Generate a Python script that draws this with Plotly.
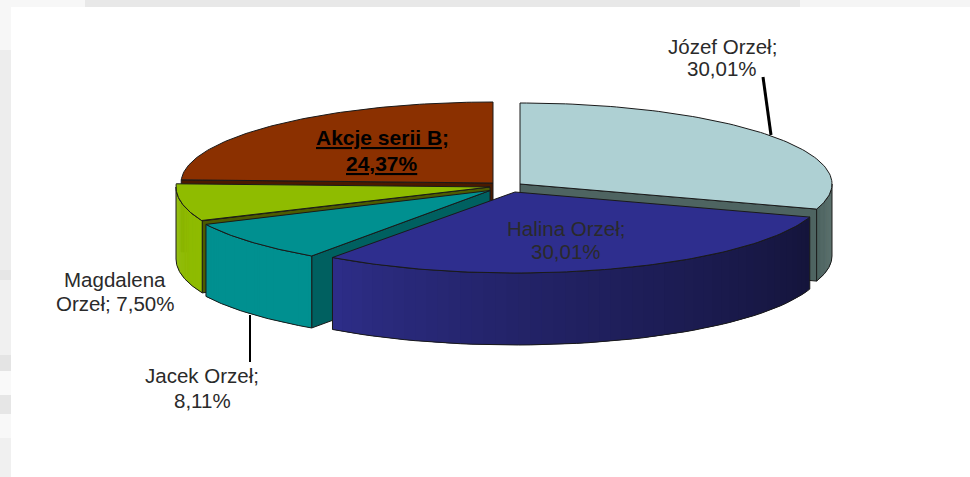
import math
import plotly.graph_objects as go

# ---- data ----
NAMES = ["Józef Orzeł", "Halina Orzeł", "Jacek Orzeł", "Magdalena Orzeł", "Akcje serii B"]
VALUES = [30.01, 30.01, 8.11, 7.50, 24.37]
TOP_COLORS = ["#aed0d3", "#2e2e8e", "#009090", "#8fbc00", "#8b3000"]
WALL_LEFT = ["#4e6461", "#2e2e8a", "#009090", "#8fbc00", "#8b3000"]
WALL_RIGHT = ["#4e6461", "#14143a", "#009090", "#8cb800", "#8b3000"]
CUT_COLORS = ["#4e6461", "#1a1a50", "#006060", "#4d5c00", "#4a1a00"]
LABEL_LINES = [
    ["Józef Orzeł;", "{v}"],
    ["Halina Orzeł;", "{v}"],
    ["Jacek Orzeł;", "{v}"],
    ["Magdalena", "Orzeł; {v}"],
    ["Akcje serii B;", "{v}"],
]

# ---- projected drawing geometry (ellipse centre x, y, radius x, apex x per slice) ----
CENTRES = [(520, 184, 312, 520), (515, 192, 310, 515), (506.6, 190.5, 331, 490),
           (462, 187, 286, 490), (493, 183, 312, 493)]
RY, DEPTH = 81, 72
LABEL_X = [722, 566, 202, 115, 382]
LABEL_Y = [(46, 68), (228, 251), (375, 400), (279, 303), (137, 163)]
DRAW_ORDER = [4, 3, 2, 0, 1]
BACK_TOP = [(0, 85, "#f7f7f7"), (85, 800, "#e8e8e8"), (800, 970, "#f5f5f5")]
BACK_LEFT = [(0, 50, "#f7f7f7"), (50, 270, "#ededed"), (270, 280, "#e6e6e6"), (280, 355, "#f0f0f0"),
             (355, 371, "#e4e4e4"), (371, 395, "#f9f9f9"), (395, 414, "#e6e6e6"), (414, 438, "#f8f8f8"),
             (438, 477, "#f0f0f0")]


def pt(i, deg, dz=0.0):
    cx, cy, rx, _ = CENTRES[i]
    a = math.radians(deg)
    return cx + rx * math.sin(a), cy - RY * math.cos(a) + dz


def hex_mix(c1, c2, t):
    p = [int(c1[k:k + 2], 16) for k in (1, 3, 5)]
    q = [int(c2[k:k + 2], 16) for k in (1, 3, 5)]
    return "#" + "".join(f"{round(a + (b - a) * t):02x}" for a, b in zip(p, q))


def poly(xs, ys, fill, line="#1a1a1a", width=1.0):
    return go.Scatter(x=xs, y=ys, mode="lines", fill="toself", fillcolor=fill,
                      line=dict(color=line, width=width), hoverinfo="skip", showlegend=False)


bounds = []
total = 0.0
for v in VALUES:
    bounds.append((total * 3.6, (total + v) * 3.6))
    total += v

fig = go.Figure()
for i in DRAW_ORDER:
    start, end = bounds[i]
    _, cy, _, ax = CENTRES[i]
    # cut faces: only the edges that face the viewer
    visible = []
    if 180 < start < 360:
        visible.append(start)
    if 0 < end < 180:
        visible.append(end)
    for deg in visible:
        ex, ey = pt(i, deg)
        fig.add_trace(poly([ax, ex, ex, ax, ax], [cy, ey, ey + DEPTH, cy + DEPTH, cy], CUT_COLORS[i]))
    # outer wall, in narrow shaded strips laid so each overlaps the next
    lo, hi = max(start, 90), min(end, 270)
    if hi > lo:
        n = 50
        angs = [lo + (hi - lo) * k / n for k in range(n + 1)]
        for k in range(n):
            t = 1 - (k + 0.5) / n if i == 1 else (k + 0.5) / n
            col = hex_mix(WALL_LEFT[i], WALL_RIGHT[i], t ** 0.8)
            seg = angs[k:k + 3]
            top = [pt(i, a) for a in seg]
            bot = [pt(i, a, DEPTH) for a in reversed(seg)]
            ring = top + bot + [top[0]]
            fig.add_trace(go.Scatter(x=[p[0] for p in ring], y=[p[1] for p in ring], mode="none",
                                     fill="toself", fillcolor=col, hoverinfo="skip", showlegend=False))
        # wall outline
        top = [pt(i, a) for a in angs]
        bot = [pt(i, a, DEPTH) for a in reversed(angs)]
        ring = top + bot + [top[0]]
        fig.add_trace(go.Scatter(x=[p[0] for p in ring], y=[p[1] for p in ring], mode="lines",
                                 line=dict(color="#1a1a1a", width=1), hoverinfo="skip", showlegend=False))
    # top face
    steps = 90
    arc = [pt(i, start + (end - start) * k / steps) for k in range(steps + 1)]
    xs = [ax] + [p[0] for p in arc] + [ax]
    ys = [cy] + [p[1] for p in arc] + [cy]
    fig.add_trace(poly(xs, ys, TOP_COLORS[i]))

# leader lines
fig.add_trace(go.Scatter(x=[763, 771], y=[77, 135], mode="lines", line=dict(color="#000000", width=3),
                         hoverinfo="skip", showlegend=False))
fig.add_trace(go.Scatter(x=[250, 250], y=[315, 362], mode="lines", line=dict(color="#000000", width=2),
                         hoverinfo="skip", showlegend=False))

for i, (a, b) in enumerate(LABEL_LINES):
    vtxt = f"{VALUES[i]:.2f}%".replace(".", ",")
    for line, y in zip((a, b.format(v=vtxt)), LABEL_Y[i]):
        if i == 4:
            text, col, size = f"<b><u>{line}</u></b>", "#000000", 21
        else:
            text, col, size = line, "#2a2a2a", 20.5
        fig.add_annotation(x=LABEL_X[i], y=y, text=text, showarrow=False, align="center",
                           xanchor="center", yanchor="middle",
                           font=dict(family="Liberation Sans", size=size, color=col))

shapes = []
for x0, x1, c in BACK_TOP:
    shapes.append(dict(type="rect", x0=x0, x1=x1, y0=0, y1=7, fillcolor=c, line_width=0, layer="below"))
for y0, y1, c in BACK_LEFT:
    shapes.append(dict(type="rect", x0=0, x1=11, y0=y0, y1=y1, fillcolor=c, line_width=0, layer="below"))

fig.update_layout(width=970, height=477, margin=dict(l=0, r=0, t=0, b=0), showlegend=False,
                  paper_bgcolor="#ffffff", plot_bgcolor="#ffffff", shapes=shapes,
                  xaxis=dict(range=[0, 970], visible=False, fixedrange=True),
                  yaxis=dict(range=[477, 0], visible=False, fixedrange=True))
fig.write_html("out.html", config={"displayModeBar": False},
               post_script="document.body.style.margin='0';document.body.style.overflow='hidden';")
